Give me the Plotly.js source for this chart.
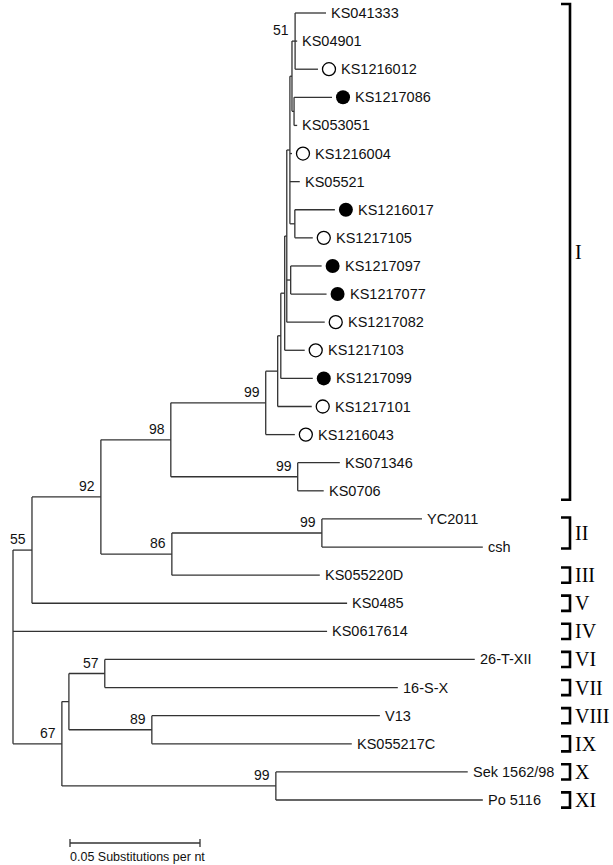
<!DOCTYPE html>
<html><head><meta charset="utf-8">
<script src="https://cdn.plot.ly/plotly-3.0.1.min.js"></script>
<style>html,body{margin:0;padding:0;background:#fff}#chart{width:613px;height:865px}</style>
</head><body><div id="chart"></div>
<script>
// ---- DATA (tree in preorder) ----
const nodeName = ['', '', '', '', '', '', '', '', '', '', '', '',
  'KS041333', 'KS04901', 'KS1216012', '', 'KS1217086', 'KS053051', 'KS1216004', 'KS05521', '',
  'KS1216017', 'KS1217105', '', 'KS1217097', 'KS1217077', 'KS1217082', 'KS1217103', 'KS1217099',
  'KS1217101', 'KS1216043', '', 'KS071346', 'KS0706', '', '', 'YC2011', 'csh', 'KS055220D',
  'KS0485', 'KS0617614', '', '', '', '26-T-XII', '16-S-X', '', 'V13', 'KS055217C', '', 'Sek 1562/98', 'Po 5116'];
const nodeParent = [-1, 0, 1, 2, 3, 4, 5, 6, 7, 8, 9, 10,
  11, 11, 11, 10, 15, 15, 9, 9, 9,
  20, 20, 8, 23, 23, 8, 7, 6,
  5, 4, 3, 31, 31, 2, 34, 35, 35, 34,
  1, 0, 0, 41, 42, 43, 43, 42, 46, 46, 41, 49, 49];
const branchLen = [0, 0.0073, 0.0265, 0.0269, 0.0365, 0.0046, 0.0012, 0.0015, 0.0008, 0.0012, 0.0008, 0.0012,
  0.0119, 0.0008, 0.0088, 0.0008, 0.0146, 0.0012, 0.0008, 0.0038, 0.0019,
  0.0154, 0.0069, 0.0015, 0.0119, 0.0138, 0.0146, 0.0077, 0.0123,
  0.0131, 0.0112, 0.0488, 0.0162, 0.0100, 0.0273, 0.0577, 0.0385, 0.0619, 0.0569,
  0.1212, 0.1208, 0.0188, 0.0027, 0.0138, 0.1423, 0.1127, 0.0319, 0.0877, 0.0769, 0.0823, 0.0738, 0.0796];
const support = [null, 55, 92, 98, 99, null, null, null, null, null, null, 51,
  null, null, null, null, null, null, null, null, null,
  null, null, null, null, null, null, null, null,
  null, null, 99, null, null, 86, 99, null, null, null,
  null, null, 67, null, 57, null, null, 89, null, null, 99, null, null];
const leafMark = ['', '', '', '', '', '', '', '', '', '', '', '',
  '', '', 'open', '', 'filled', '', 'open', '', '',
  'filled', 'open', '', 'filled', 'filled', 'open', 'open', 'filled',
  'open', 'open', '', '', '', '', '', '', '', '',
  '', '', '', '', '', '', '', '', '', '', '', '', ''];
const cladeNames = ['I', 'II', 'III', 'V', 'IV', 'VI', 'VII', 'VIII', 'IX', 'X', 'XI'];
const cladeFirst = ['KS041333', 'YC2011', 'KS055220D', 'KS0485', 'KS0617614', '26-T-XII', '16-S-X', 'V13', 'KS055217C', 'Sek 1562/98', 'Po 5116'];
const cladeLast  = ['KS0706', 'csh', 'KS055220D', 'KS0485', 'KS0617614', '26-T-XII', '16-S-X', 'V13', 'KS055217C', 'Sek 1562/98', 'Po 5116'];
const scaleLength = 0.05;
const scaleLabel = '0.05 Substitutions per nt';

// ---- STYLE / GEOMETRY ----
const W = 613, H = 865;
const pxPerUnit = 2600, rootPx = 13;
const leafTopPx = 13, leafStepPx = 28.107;
const cladePad = [0.32, 0.05, 0.27, 0.27, 0.27, 0.27, 0.27, 0.27, 0.27, 0.27, 0.27];
const bracketPx = 570, bracketTickPx = 9;
const scaleStartPx = 70, scaleYPx = 843, scaleLabelYPx = 857;
const lineColor = '#333333';
const sans = 'Liberation Sans, Arial, sans-serif';
const serif = 'Liberation Serif, Times New Roman, serif';

const px2x = p => (p - rootPx) / pxPerUnit;
const py2y = p => (p - leafTopPx) / leafStepPx;

// ---- layout of the tree ----
const n = nodeName.length;
const children = Array.from({length: n}, () => []);
nodeParent.forEach((p, i) => { if (p >= 0) children[p].push(i); });
const X = new Array(n).fill(0), Y = new Array(n).fill(0);
for (let i = 1; i < n; i++) X[i] = X[nodeParent[i]] + branchLen[i];
let leafCount = 0;
const leafIndexOf = {};
for (let i = 0; i < n; i++) if (children[i].length === 0) { Y[i] = leafCount++; leafIndexOf[nodeName[i]] = i; }
for (let i = n - 1; i >= 0; i--) if (children[i].length) {
  const c = children[i]; Y[i] = (Y[c[0]] + Y[c[c.length - 1]]) / 2;
}

const lx = [], ly = [];
for (let i = 0; i < n; i++) {
  if (nodeParent[i] >= 0) { lx.push(X[nodeParent[i]], X[i], null); ly.push(Y[i], Y[i], null); }
  if (children[i].length) {
    const ys = children[i].map(c => Y[c]);
    lx.push(X[i], X[i], null); ly.push(Math.min(...ys), Math.max(...ys), null);
  }
}
const traces = [{x: lx, y: ly, mode: 'lines', line: {color: lineColor, width: 1.3}, hoverinfo: 'skip', showlegend: false}];

const markOff = 11 / pxPerUnit;
const ox = [], oy = [], fx = [], fy = [];
const annotations = [];
for (let i = 0; i < n; i++) {
  if (children[i].length === 0) {
    const m = leafMark[i];
    if (m === 'open') { ox.push(X[i] + markOff); oy.push(Y[i]); }
    if (m === 'filled') { fx.push(X[i] + markOff); fy.push(Y[i]); }
    annotations.push({x: X[i], y: Y[i], text: nodeName[i], showarrow: false, xanchor: 'left', yanchor: 'middle',
      xshift: m ? 21 : 3, font: {family: sans, size: 14.5, color: '#111'}});
  } else if (support[i] !== null) {
    annotations.push({x: X[i], y: Y[i], text: String(support[i]), showarrow: false, xanchor: 'right', yanchor: 'middle',
      xshift: -4, yshift: 11, font: {family: sans, size: 14, color: '#111'}});
  }
}
traces.push({x: ox, y: oy, mode: 'markers', marker: {symbol: 'circle-open', size: 13, color: '#000', line: {width: 1.3, color: '#000'}}, hoverinfo: 'skip', showlegend: false});
traces.push({x: fx, y: fy, mode: 'markers', marker: {symbol: 'circle', size: 14, color: '#000'}, hoverinfo: 'skip', showlegend: false});

// clade brackets
const bx = px2x(bracketPx), bt = bracketTickPx / pxPerUnit;
const bxs = [], bys = [];
cladeNames.forEach((c, k) => {
  const y1 = Y[leafIndexOf[cladeFirst[k]]] - cladePad[k];
  const y2 = Y[leafIndexOf[cladeLast[k]]] + cladePad[k];
  bxs.push(bx - bt, bx, bx, bx - bt, null); bys.push(y1, y1, y2, y2, null);
  annotations.push({x: bx, y: (y1 + y2) / 2, text: c, showarrow: false, xanchor: 'left', yanchor: 'middle', xshift: 3,
    font: {family: serif, size: 20, color: '#000'}});
});
traces.push({x: bxs, y: bys, mode: 'lines', line: {color: '#000', width: 2.6}, hoverinfo: 'skip', showlegend: false});

// scale bar
const sx0 = px2x(scaleStartPx), sy = py2y(scaleYPx), tk = 4 / leafStepPx;
traces.push({x: [sx0, sx0 + scaleLength, null, sx0, sx0, null, sx0 + scaleLength, sx0 + scaleLength],
  y: [sy, sy, null, sy - tk, sy + tk, null, sy - tk, sy + tk], mode: 'lines',
  line: {color: lineColor, width: 1.3}, hoverinfo: 'skip', showlegend: false});
annotations.push({x: sx0, y: py2y(scaleLabelYPx), text: scaleLabel, showarrow: false, xanchor: 'left', yanchor: 'middle',
  xshift: -2, font: {family: sans, size: 12.5, color: '#111'}});

const layout = {
  width: W, height: H, margin: {l: 0, r: 0, t: 0, b: 0},
  paper_bgcolor: '#fff', plot_bgcolor: '#fff', showlegend: false,
  xaxis: {range: [px2x(0), px2x(W)], visible: false, fixedrange: true},
  yaxis: {range: [py2y(H), py2y(0)], visible: false, fixedrange: true},
  annotations: annotations
};
Plotly.newPlot('chart', traces, layout, {staticPlot: true, displayModeBar: false});
</script>
</body></html>
